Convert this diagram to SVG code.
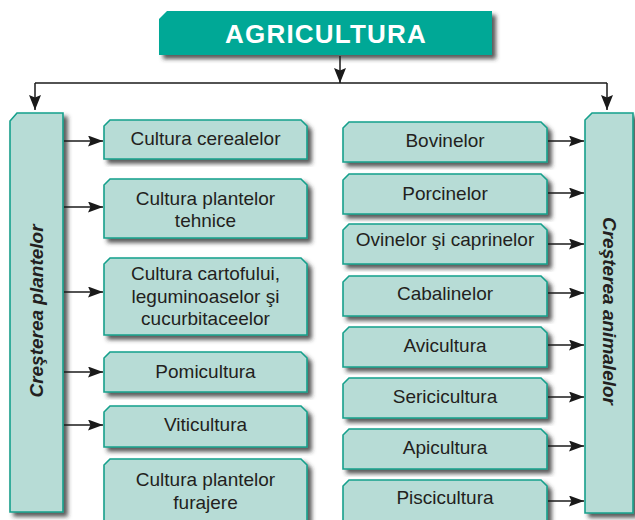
<svg xmlns="http://www.w3.org/2000/svg" width="635" height="520" viewBox="0 0 635 520">
  <defs>
    <filter id="sh" x="-10%" y="-10%" width="130%" height="130%">
      <feDropShadow dx="4" dy="4" stdDeviation="2" flood-color="#333333" flood-opacity="0.8"/>
    </filter>
    <marker id="ah" viewBox="0 0 15 11" refX="15" refY="5.5" markerWidth="15" markerHeight="11" markerUnits="userSpaceOnUse" orient="auto">
      <path d="M0,0 L15,5.5 L0,11 L2.5,5.5 Z" fill="#1a1a1a"/>
    </marker>
    <marker id="ahv" viewBox="0 0 15 12" refX="15" refY="6" markerWidth="15" markerHeight="12" markerUnits="userSpaceOnUse" orient="auto">
      <path d="M0,0 L15,6 L0,12 L2.5,6 Z" fill="#1a1a1a"/>
    </marker>
  </defs>
  <style>
    .node { fill: #b7dcd6; stroke: #16a08c; stroke-width: 1.6; filter: url(#sh); }
    .side { fill: #b7dcd6; stroke: #16a08c; stroke-width: 1.6; filter: url(#sh); }
    .title { fill: #00a896; filter: url(#sh); }
    .t { font-family: "Liberation Sans", Arial, sans-serif; font-size: 19px; fill: #231f20; text-anchor: middle; }
    .tt { font-family: "Liberation Sans", Arial, sans-serif; font-size: 26px; font-weight: bold; fill: #ffffff; text-anchor: middle; letter-spacing: 1.2px; }
    .st { font-family: "Liberation Sans", Arial, sans-serif; font-size: 19px; font-weight: bold; font-style: italic; fill: #231f20; text-anchor: middle; }
    .c { stroke: #1a1a1a; stroke-width: 1.5; fill: none; }
  </style>
  <rect width="635" height="520" fill="#ffffff"/>

  <g id="agricultura">
    <path class="title" d="M159,55 V19 L167,11 H492 V55 Z"/>
    <text class="tt" x="326" y="43">AGRICULTURA</text>
  </g>

  <g id="crestere-plantelor">
    <path class="side" d="M10,512 V121 L17,113 H63 V512 Z"/>
    <text class="st" transform="translate(43,311) rotate(-90)">Creşterea plantelor</text>
  </g>

  <g id="crestere-animalelor">
    <path class="side" d="M585,513 V120 L592,113 H633 V513 Z"/>
    <text class="st" transform="translate(603,311) rotate(90)">Creşterea animalelor</text>
  </g>

  <g id="cereale">
    <path class="node" d="M104,159 V126 L110,120 H301 L307,126 V159 Z"/>
    <text class="t" x="205.5" y="145">Cultura cerealelor</text>
  </g>
  <g id="tehnice">
    <path class="node" d="M104,238 V185 L110,179 H301 L307,185 V238 Z"/>
    <text class="t" x="205.5" y="205">Cultura plantelor</text>
    <text class="t" x="205.5" y="227">tehnice</text>
  </g>
  <g id="cartofi">
    <path class="node" d="M104,335 V264 L110,258 H301 L307,264 V335 Z"/>
    <text class="t" x="205.5" y="280">Cultura cartofului,</text>
    <text class="t" x="205.5" y="303">leguminoaselor şi</text>
    <text class="t" x="205.5" y="325">cucurbitaceelor</text>
  </g>
  <g id="pomicultura">
    <path class="node" d="M104,392 V358 L110,352 H301 L307,358 V392 Z"/>
    <text class="t" x="205.5" y="378">Pomicultura</text>
  </g>
  <g id="viticultura">
    <path class="node" d="M104,447 V412 L110,406 H301 L307,412 V447 Z"/>
    <text class="t" x="205.5" y="431">Viticultura</text>
  </g>
  <g id="furajere">
    <path class="node" d="M104,526 V465 L110,459 H301 L307,465 V526 Z"/>
    <text class="t" x="205.5" y="486">Cultura plantelor</text>
    <text class="t" x="205.5" y="509">furajere</text>
  </g>

  <g id="bovine">
    <path class="node" d="M343,162 V128 L349,122 H541 L547,128 V162 Z"/>
    <text class="t" x="445" y="147">Bovinelor</text>
  </g>
  <g id="porcine">
    <path class="node" d="M343,214 V180 L349,174 H541 L547,180 V214 Z"/>
    <text class="t" x="445" y="200">Porcinelor</text>
  </g>
  <g id="ovine">
    <path class="node" d="M343,264 V230 L349,224 H541 L547,230 V264 Z"/>
    <text class="t" x="445" y="246">Ovinelor şi caprinelor</text>
  </g>
  <g id="cabaline">
    <path class="node" d="M343,316 V282 L349,276 H541 L547,282 V316 Z"/>
    <text class="t" x="445" y="300">Cabalinelor</text>
  </g>
  <g id="avicultura">
    <path class="node" d="M343,367 V333 L349,327 H541 L547,333 V367 Z"/>
    <text class="t" x="445" y="352">Avicultura</text>
  </g>
  <g id="sericicultura">
    <path class="node" d="M343,418 V384 L349,378 H541 L547,384 V418 Z"/>
    <text class="t" x="445" y="403">Sericicultura</text>
  </g>
  <g id="apicultura">
    <path class="node" d="M343,469 V435 L349,429 H541 L547,435 V469 Z"/>
    <text class="t" x="445" y="454">Apicultura</text>
  </g>
  <g id="piscicultura">
    <path class="node" d="M343,522 V486 L349,480 H541 L547,486 V522 Z"/>
    <text class="t" x="445" y="504">Piscicultura</text>
  </g>

  <g id="connectors">
    <path class="c" d="M340,56 V83" marker-end="url(#ahv)"/>
    <path class="c" d="M35,83 H607"/>
    <path class="c" d="M35,83 V110" marker-end="url(#ahv)"/>
    <path class="c" d="M607,83 V110" marker-end="url(#ahv)"/>

    <path class="c" d="M64,141 H103" marker-end="url(#ah)"/>
    <path class="c" d="M64,207 H103" marker-end="url(#ah)"/>
    <path class="c" d="M64,292 H103" marker-end="url(#ah)"/>
    <path class="c" d="M64,372 H103" marker-end="url(#ah)"/>
    <path class="c" d="M64,425 H103" marker-end="url(#ah)"/>

    <path class="c" d="M548,141 H584" marker-end="url(#ah)"/>
    <path class="c" d="M548,193 H584" marker-end="url(#ah)"/>
    <path class="c" d="M548,244 H584" marker-end="url(#ah)"/>
    <path class="c" d="M548,293 H584" marker-end="url(#ah)"/>
    <path class="c" d="M548,345 H584" marker-end="url(#ah)"/>
    <path class="c" d="M548,397 H584" marker-end="url(#ah)"/>
    <path class="c" d="M548,446 H584" marker-end="url(#ah)"/>
    <path class="c" d="M548,501 H584" marker-end="url(#ah)"/>
  </g>
</svg>
